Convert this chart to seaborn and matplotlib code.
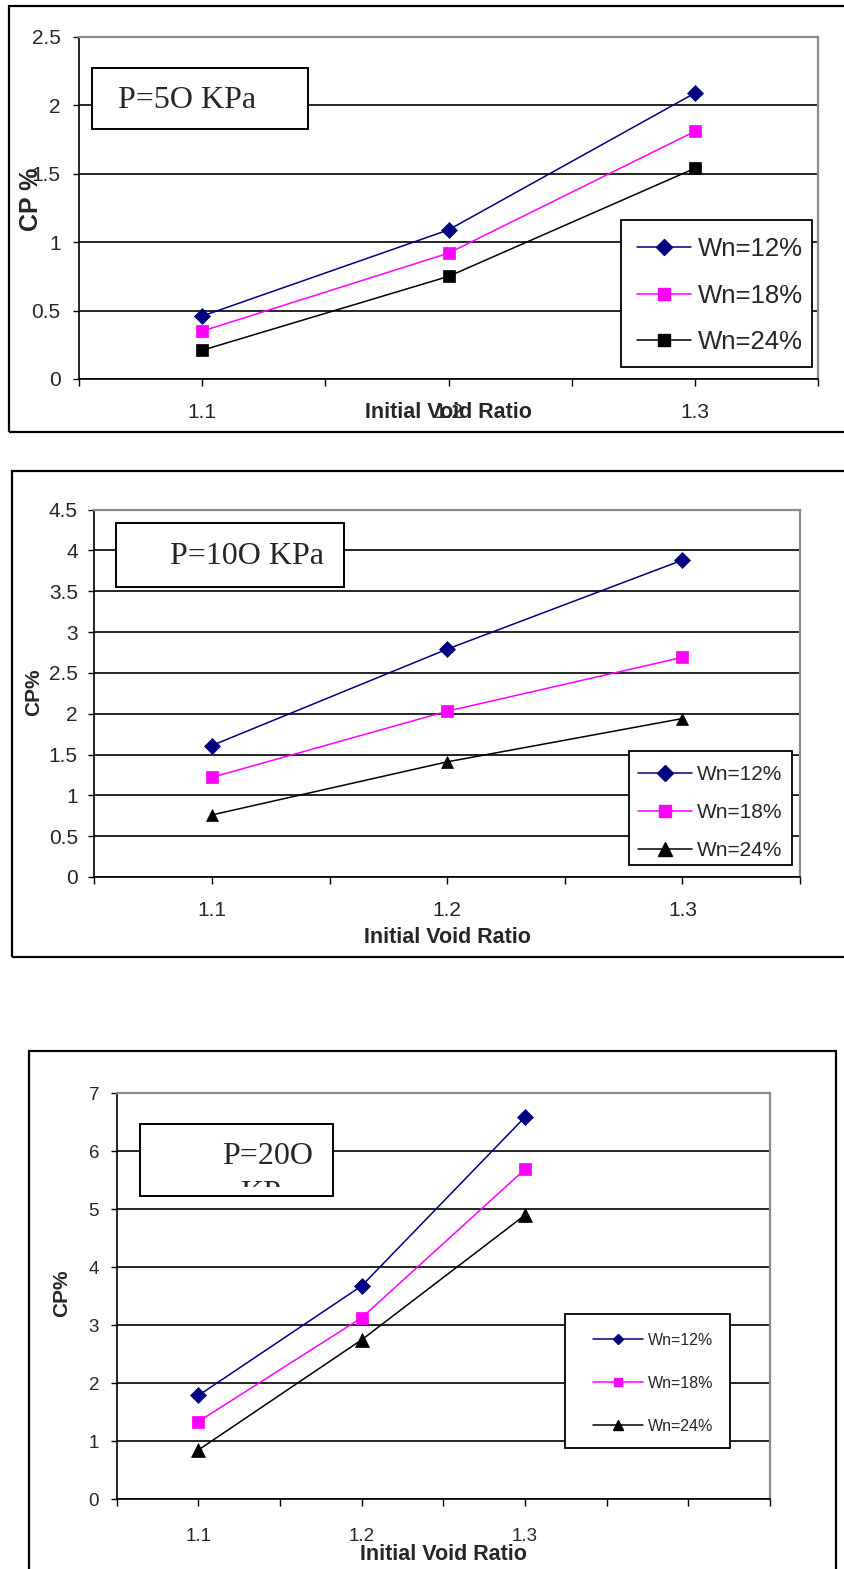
import numpy as np
import matplotlib
matplotlib.use('Agg')
import matplotlib.pyplot as plt
from matplotlib.patches import Rectangle
from matplotlib.lines import Line2D
import seaborn as sns

# values
void_ratio = [1.1, 1.2, 1.3]
series_names = ['Wn=12%', 'Wn=18%', 'Wn=24%']

cp_50_wn12 = [0.46, 1.09, 2.09]
cp_50_wn18 = [0.35, 0.92, 1.81]
cp_50_wn24 = [0.21, 0.75, 1.54]

cp_100_wn12 = [1.61, 2.79, 3.88]
cp_100_wn18 = [1.22, 2.03, 2.69]
cp_100_wn24 = [0.76, 1.41, 1.94]

cp_200_wn12 = [1.79, 3.68, 6.59]
cp_200_wn18 = [1.34, 3.13, 5.69]
cp_200_wn24 = [0.85, 2.75, 4.90]

x_ticks_short = [1.05, 1.1, 1.15, 1.2, 1.25, 1.3, 1.35]
x_labels_short = ['', '1.1', '', '1.2', '', '1.3', '']
x_ticks_long = [1.05, 1.1, 1.15, 1.2, 1.25, 1.3, 1.35, 1.4, 1.45]
x_labels_long = ['', '1.1', '', '1.2', '', '1.3', '', '', '']

y_ticks_50 = [0, 0.5, 1, 1.5, 2, 2.5]
y_labels_50 = ['0', '0.5', '1', '1.5', '2', '2.5']
y_ticks_100 = [0, 0.5, 1, 1.5, 2, 2.5, 3, 3.5, 4, 4.5]
y_labels_100 = ['0', '0.5', '1', '1.5', '2', '2.5', '3', '3.5', '4', '4.5']
y_ticks_200 = [0, 1, 2, 3, 4, 5, 6, 7]
y_labels_200 = ['0', '1', '2', '3', '4', '5', '6', '7']

colors = ['#000080', '#FF00FF', '#000000']

sns.set_style('ticks')
plt.rcParams['font.family'] = ['Liberation Sans', 'DejaVu Sans']

W, H = 845, 1569
fig = plt.figure(figsize=(W / 100, H / 100), dpi=100)


def rect(l, t, r, b):
    # pixel box -> figure fraction
    return [l / W, 1 - b / H, (r - l) / W, (b - t) / H]


def ax_x(ax_box, x):
    l, t, r, b = ax_box
    return (x - l) / (r - l)


def ax_y(ax_box, y):
    l, t, r, b = ax_box
    return (b - y) / (b - t)


def fig_box(l, t, r, b, **kw):
    return Rectangle((l / W, 1 - b / H), (r - l) / W, (b - t) / H,
                     transform=fig.transFigure, **kw)


def panel(ax_box, data, markers, msizes, xlim, xticks, xlabels, yticks, ylabels,
          tick_fs, xpad, ypad, ylabel, ylab_xy, ylab_fs, xlab_base,
          leg_box, leg_anchor, leg_fs, leg_msizes, hl, htp, ls):
    ax = fig.add_axes(rect(*ax_box))
    for vals, c, m, ms in zip(data, colors, markers, msizes):
        sns.lineplot(x=void_ratio, y=vals, color=c, marker=m, markersize=ms,
                     markeredgecolor=c, markeredgewidth=0.5, linewidth=1.1,
                     legend=False, ax=ax, zorder=3)
    ax.set_xlim(*xlim)
    ax.set_ylim(yticks[0], yticks[-1])
    ax.set_xticks(xticks)
    ax.set_xticklabels(xlabels)
    ax.set_yticks(yticks)
    ax.set_yticklabels(ylabels)
    ax.tick_params(axis='x', direction='out', length=5, width=1, pad=xpad,
                   labelsize=tick_fs, color='black')
    ax.tick_params(axis='y', direction='out', length=4.3, width=1, pad=ypad,
                   labelsize=tick_fs, color='black')
    ax.set_axisbelow(True)
    ax.yaxis.grid(True, color='black', linewidth=1.2)
    for s in ['top', 'right']:
        ax.spines[s].set_color('#8c8c8c')
        ax.spines[s].set_linewidth(1.6)
    for s in ['left', 'bottom']:
        ax.spines[s].set_color('black')
        ax.spines[s].set_linewidth(1.2)

    ax.set_xlabel('Initial Void Ratio', fontsize=15.5, fontweight='bold',
                  va='baseline')
    ax.xaxis.set_label_coords(0.5, ax_y(ax_box, xlab_base))
    ax.set_ylabel(ylabel, fontsize=ylab_fs, fontweight='bold', va='center',
                  ha='center')
    ax.yaxis.set_label_coords(ax_x(ax_box, ylab_xy[0]), ax_y(ax_box, ylab_xy[1]))

    # legend with a white framed box behind it
    ax.add_patch(fig_box(*leg_box, facecolor='white', edgecolor='black',
                         linewidth=1.3, clip_on=False, zorder=4))
    handles = [Line2D([], [], color=c, marker=m, markersize=s,
                      markeredgecolor=c, linewidth=1.1)
               for c, m, s in zip(colors, markers, leg_msizes)]
    leg = ax.legend(handles, series_names, loc='upper left',
                    bbox_to_anchor=(leg_anchor[0] / W, 1 - leg_anchor[1] / H),
                    bbox_transform=fig.transFigure, frameon=False, borderpad=0,
                    borderaxespad=0, fontsize=leg_fs, handlelength=hl,
                    handletextpad=htp, labelspacing=ls)
    leg.set_zorder(6)
    return ax


def title_box(ax, box, lines, x, y, ha='left', clip=None):
    ax.add_patch(fig_box(*box, facecolor='white', edgecolor='black',
                         linewidth=1.4, clip_on=False, zorder=4))
    for i, line in enumerate(lines):
        t = ax.text(x / W, 1 - (y + i * 38) / H, line, transform=fig.transFigure,
                    fontsize=23, family='Liberation Serif', ha=ha, va='baseline',
                    zorder=6, clip_on=clip is not None)
        if clip is not None:
            t.set_clip_path(fig_box(*clip))


# outer chart frames
fig.add_artist(fig_box(9.5, 6.5, 860, 432, fill=False, edgecolor='black', linewidth=1.6))
fig.add_artist(fig_box(11.7, 470.7, 860, 956.7, fill=False, edgecolor='black', linewidth=1.6))
fig.add_artist(fig_box(29.3, 1050.7, 836, 1600, fill=False, edgecolor='black', linewidth=1.6))

# P = 50 kPa
box1 = (79, 37, 818, 379)
ax1 = panel(box1, [cp_50_wn12, cp_50_wn18, cp_50_wn24], ['D', 's', 's'], [8.5, 8.3, 8.3],
            (1.05, 1.35), x_ticks_short, x_labels_short, y_ticks_50, y_labels_50,
            15, 12.5, 9, 'CP %', (31, 199.5), 18, 418,
            (621, 220, 812, 367), (637, 237), 18.5, [8.0, 8.0, 8.0], 2.1, 0.27, 0.88)
title_box(ax1, (92, 68, 308, 129), ['P=5O KPa'], 118, 108.3)

# P = 100 kPa
box2 = (94.3, 509.5, 800, 877)
ax2 = panel(box2, [cp_100_wn12, cp_100_wn18, cp_100_wn24], ['D', 's', '^'], [7.8, 8.5, 9.0],
            (1.05, 1.35), x_ticks_short, x_labels_short, y_ticks_100, y_labels_100,
            15, 12, 7.6, 'CP%', (33.5, 692.5), 15, 943.3,
            (629.3, 750.7, 791.7, 865), (638, 765), 15, [8.0, 8.4, 9.4], 2.58, 0.25, 0.91)
title_box(ax2, (115.8, 523.3, 343.8, 586.7), ['P=10O KPa'], 169.7, 564)

# P = 200 kPa
box3 = (116.7, 1093.3, 770, 1499.3)
ax3 = panel(box3, [cp_200_wn12, cp_200_wn18, cp_200_wn24], ['D', 's', '^'], [8.2, 8.7, 9.5],
            (1.05, 1.45), x_ticks_long, x_labels_long, y_ticks_200, y_labels_200,
            13.5, 15.4, 8.4, 'CP%', (61.7, 1293.5), 15, 1560,
            (565, 1314.3, 730, 1448.3), (593.3, 1333), 11.5, [5.0, 5.3, 7.0], 3.09, 0.31, 1.74)
title_box(ax3, (140, 1124.3, 332.7, 1195.7), ['P=20O', 'KPa'], 268, 1164, ha='center',
          clip=(141, 1125, 332, 1187))

fig.savefig('out.png', dpi=100)
